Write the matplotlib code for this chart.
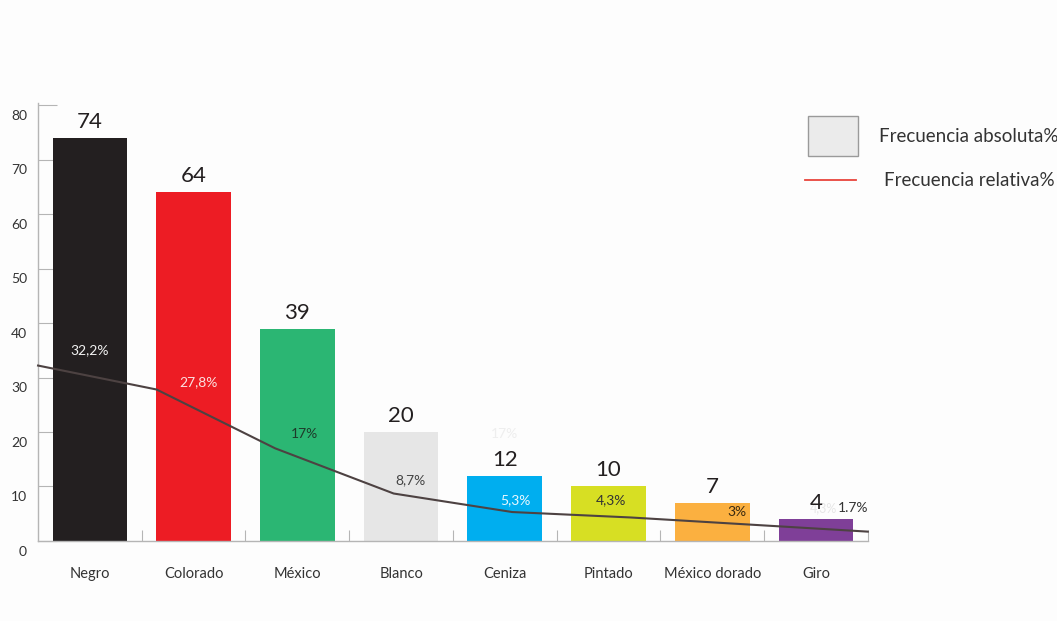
import numpy as np
import matplotlib
matplotlib.use("Agg")
import matplotlib.pyplot as plt
from matplotlib.patches import Rectangle
from matplotlib.lines import Line2D
from matplotlib.transforms import ScaledTranslation

# Datos
categorias = ["Negro", "Colorado", "México", "Blanco", "Ceniza", "Pintado",
              "México dorado", "Giro"]
frec_absoluta = [74, 64, 39, 20, 12, 10, 7, 4]
frec_relativa = [32.2, 27.8, 17, 8.7, 5.3, 4.3, 3, 1.7]
etiquetas_rel = ["32,2%", "27,8%", "17%", "8,7%", "5,3%", "4,3%", "3%", "1.7%"]
colores = ["#231f20", "#ed1c24", "#2bb673", "#e6e6e6", "#00aeef", "#d7df23",
           "#fbb040", "#7f3f98"]

# Posicion y color de las etiquetas de porcentaje (desplazamiento respecto a la barra / linea)
desp_x = [0.0, 0.05, 0.07, 0.09, 0.10, 0.02, 0.24, 0.36]
desp_y = [2.8, 1.4, 2.6, 2.5, 2.2, 3.2, 2.3, 4.3]
color_rel = ["#f2f2f2", "#fbe0e0", "#1e3a2a", "#444444", "#e8f8ff", "#333333",
             "#3a2a10", "#333333"]

plt.rcParams["font.family"] = ["Lato", "DejaVu Sans"]
gris = "#b5b5b5"

fig = plt.figure(figsize=(10.57, 6.21), dpi=100, facecolor="#fdfdfd")
ax = fig.add_axes([0.036, 0.129, 0.785, 0.705])
ax.set_facecolor("#fdfdfd")

x = np.arange(len(categorias))
ax.bar(x, frec_absoluta, width=0.72, color=colores, zorder=2)
ax.set_xlim(-0.5, 7.5)
ax.set_ylim(0, 80.4)

# Numeros encima de cada barra
for xi, v in zip(x, frec_absoluta):
    ax.text(xi, v + 1.1, str(v), ha="center", va="bottom", fontsize=16,
            color="#231f20", zorder=4)

# Linea de frecuencia relativa repartida sobre todo el eje
xl = np.linspace(ax.get_xlim()[0], ax.get_xlim()[1], len(frec_relativa))
ax.plot(xl, frec_relativa, color="#4d4242", lw=1.5, zorder=3, clip_on=False)

for xi, v, lab, dx, dy, c in zip(x, frec_relativa, etiquetas_rel, desp_x, desp_y, color_rel):
    ax.text(xi + dx, v + dy, lab, ha="center", va="center", fontsize=10,
            color=c, zorder=4)

# Restos tenues de etiquetas
ax.text(4.0, 19.6, "17%", ha="center", va="center", fontsize=10,
        color="#eeeeee", zorder=1)
ax.text(7.07, 6.0, "4,3%", ha="center", va="center", fontsize=9,
        color="#e6e6e6", zorder=1)

# Ejes
for s in ["top", "right"]:
    ax.spines[s].set_visible(False)
for s in ["left", "bottom"]:
    ax.spines[s].set_color(gris)
    ax.spines[s].set_linewidth(1.0)

ax.set_yticks(np.arange(0, 81, 10))
ax.tick_params(axis="y", direction="in", length=14, color=gris, labelsize=10,
               labelcolor="#333333", pad=8)
for lab in ax.get_yticklabels():
    lab.set_transform(lab.get_transform() + ScaledTranslation(0, -7 / 72, fig.dpi_scale_trans))

ax.set_xticks(np.arange(0.5, 8, 1.0))
ax.set_xticklabels([])
ax.tick_params(axis="x", direction="in", length=8, color=gris)
for xi, nombre in zip(x, categorias):
    ax.text(xi, -6.1, nombre, ha="center", va="center", fontsize=10.5,
            color="#333333")

# Leyenda
fig.patches.append(Rectangle((808 / 1057, 1 - 156 / 621), 50 / 1057, 40 / 621,
                             transform=fig.transFigure, facecolor="#ebebeb",
                             edgecolor="#9a9a9a", lw=1.0))
fig.text(879 / 1057, 1 - 137 / 621, "Frecuencia absoluta%", fontsize=13.5,
         va="center", ha="left", color="#333333")
fig.lines.append(Line2D([805 / 1057, 856 / 1057], [1 - 180 / 621] * 2,
                        transform=fig.transFigure, color="#e8453c", lw=1.3))
fig.text(884 / 1057, 1 - 180 / 621, "Frecuencia relativa%", fontsize=13.5,
         va="center", ha="left", color="#333333")

fig.savefig("out.png", dpi=100, facecolor=fig.get_facecolor())
